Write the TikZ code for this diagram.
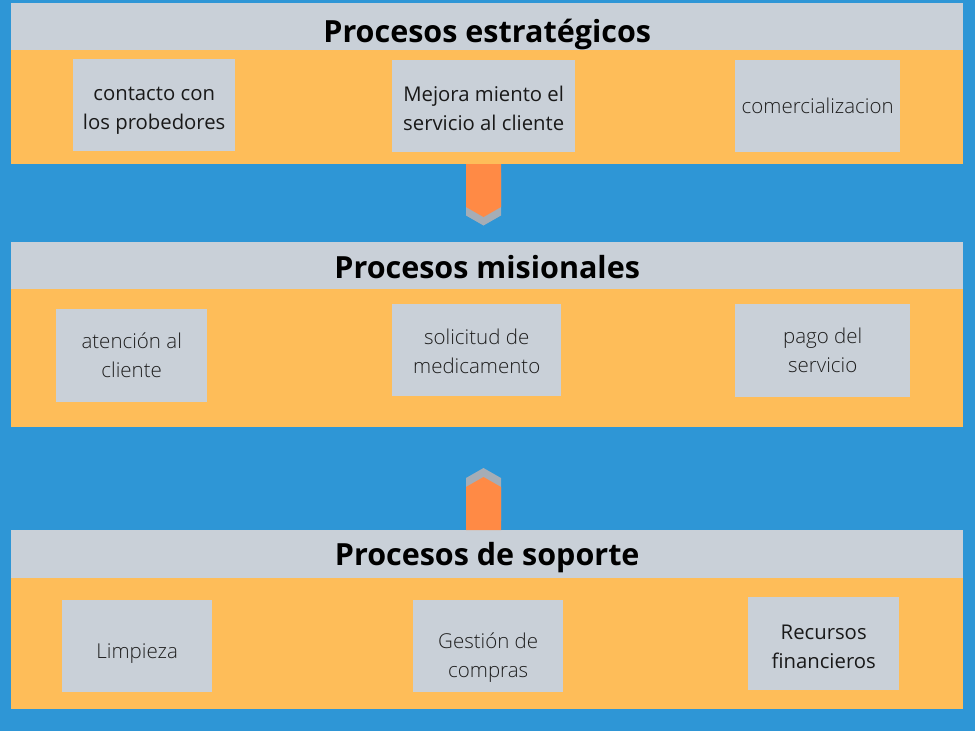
\documentclass[tikz,border=0pt]{standalone}
\usepackage{fontspec}
\setmainfont{Open Sans}
\newfontfamily\lightfont{Open Sans Light}
\usepackage{xcolor}
\usetikzlibrary{positioning}
\definecolor{woodblue}{RGB}{46,150,214}
\definecolor{panelorange}{RGB}{254,189,89}
\definecolor{headgray}{RGB}{201,208,216}
\definecolor{arroworange}{RGB}{255,138,69}
\definecolor{chevgray}{RGB}{165,173,182}
\definecolor{textdark}{RGB}{30,30,30}

\begin{document}
\begin{tikzpicture}[x=1pt, y=-1pt,
  panel/.style={rectangle, fill=panelorange, anchor=north west,
    minimum width=952pt, inner sep=0pt},
  header/.style={rectangle, fill=headgray, anchor=north west,
    minimum width=952pt, minimum height=47pt, inner sep=0pt},
  title/.style={inner sep=0pt, font=\fontsize{30.5}{36}\selectfont\bfseries, text=black},
  item/.style={rectangle, fill=headgray, anchor=north west, inner sep=0pt,
    minimum height=92pt},
  itemtext/.style={inner sep=0pt, align=center, text=textdark,
    font=\lightfont\fontsize{20.5}{29}\selectfont},
  regular/.style={font=\normalfont\fontsize{20.3}{29}\selectfont, text=black!90},
  blockarrow/.style={fill=arroworange},
  chevron/.style={fill=chevgray}
]
% Background
\fill[woodblue] (0,0) rectangle (975,731);

% Strategic processes
\node[panel, minimum height=161pt] (p1) at (11,3) {};
\node[header] (h1) at (11,3) {};
\node[title] (t1) at ([yshift=-8pt]h1.center) {Procesos estratégicos};
\node[item, minimum width=162pt] (s1) at (73,59) {};
\node[item, minimum width=183pt] (s2) at (392,60) {};
\node[item, minimum width=165pt] (s3) at (735,60) {};
\node[itemtext, regular] (s1t) at ([yshift=-5.5pt]s1.center) {contacto con\\los probedores};
\node[itemtext, regular] (s2t) at ([yshift=-2.5pt]s2.center) {Mejora miento el\\servicio al cliente};
\node[itemtext] (s3t) at (s3.center) {comercializacion};

% Missional processes
\node[panel, minimum height=185pt] (p2) at (11,242) {};
\node[header] (h2) at (11,242) {};
\node[title] (t2) at ([yshift=-1pt]h2.center) {Procesos misionales};
\node[item, minimum width=151pt, minimum height=93pt] (m1) at (56,309) {};
\node[item, minimum width=169pt] (m2) at (392,304) {};
\node[item, minimum width=175pt, minimum height=93pt] (m3) at (735,304) {};
\node[itemtext] (m1t) at (m1.center) {atención al\\cliente};
\node[itemtext] (m2t) at ([yshift=-1.5pt]m2.center) {solicitud de\\medicamento};
\node[itemtext] (m3t) at (m3.center) {pago del\\servicio};

% Support processes
\node[panel, minimum height=179pt] (p3) at (11,530) {};
\node[header, minimum height=48pt] (h3) at (11,530) {};
\node[title] (t3) at ([yshift=-3pt]h3.center) {Procesos de soporte};
\node[item, minimum width=150pt] (r1) at (62,600) {};
\node[item, minimum width=150pt] (r2) at (413,600) {};
\node[item, minimum width=151pt, minimum height=93pt] (r3) at (748,597) {};
\node[itemtext] (r1t) at ([yshift=-7pt]r1.center) {Limpieza};
\node[itemtext] (r2t) at ([yshift=-11pt]r2.center) {Gestión de\\compras};
\node[itemtext, regular] (r3t) at ([yshift=-3.5pt]r3.center) {Recursos\\financieros};

% Arrows between panels
\coordinate (dn) at (466,164);
\coordinate (up) at (466,530);
\fill[chevron] ([yshift=-8.5pt]dn) -- ++(35,0) -- ++(0,43) -- ++(-17.5,10) -- ++(-17.5,-10) -- cycle;
\fill[blockarrow] (dn) -- ++(35,0) -- ++(0,43) -- ++(-17.5,10) -- ++(-17.5,-10) -- cycle;
\fill[chevron] ([yshift=9pt]up) -- ++(35,0) -- ++(0,-43) -- ++(-17.5,-10) -- ++(-17.5,10) -- cycle;
\fill[blockarrow] (up) -- ++(35,0) -- ++(0,-43) -- ++(-17.5,-10) -- ++(-17.5,10) -- cycle;
\end{tikzpicture}
\end{document}
